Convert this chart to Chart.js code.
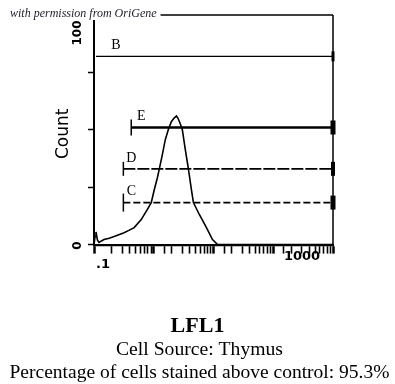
<!DOCTYPE html>
<html><head><meta charset="utf-8">
<script src="https://cdn.jsdelivr.net/npm/chart.js@4.4.1/dist/chart.umd.min.js"></script>
<style>html,body{margin:0;padding:0;background:#fff;}canvas{display:block;}</style>
</head><body>
<canvas id="c" width="395" height="384"></canvas>
<script>
// ---- data ----
const fluorescence = [0.1, 0.104, 0.108, 0.114, 0.121, 0.147, 0.18, 0.217, 0.26, 0.319, 0.39, 0.47, 0.617, 0.778, 0.908, 1.02, 1.15, 1.24, 1.39, 1.56, 1.75, 1.97, 2.21, 2.4, 2.55, 2.79, 3.01, 3.38, 3.8, 4.27, 4.61, 5.82, 7.62, 9.62, 11.7, 15, 1000];
const counts       = [0, 3.5, 5.5, 2, 0.9, 2.2, 2.8, 3.5, 4.3, 5.2, 6.3, 7.4, 10.9, 15.2, 18.3, 23.9, 29.1, 33.0, 39.1, 45.7, 50, 53.5, 55.2, 56, 55, 52.5, 50, 41.3, 33, 23.9, 18.3, 13, 7.4, 2.2, 0, 0, 0];
const gateNames  = ['B', 'E', 'D', 'C'];
const gateLevels = [82, 51, 33, 18.3];
const gateStarts = [0.108, 0.42, 0.31, 0.31];
const gateEnd = 1000;
const yTickValues = [0, 25, 50, 75, 100];
const yTickLabels = ['0', '100'];
const xTickValues = [0.1, 1000];
const xTickLabels = ['.1', '1000'];
const yAxisTitle = 'Count';
const titleText = 'LFL1';
const subtitleLines = ['Cell Source: Thymus', 'Percentage of cells stained above control: 95.3%'];
const watermark = 'with permission from OriGene';

// ---- styles ----
const gateStyle = {
  B: {w: 1.2, dash: [], cap: 0, end: 3, er: 5, lx: 20},
  E: {w: 2.6, dash: [], cap: 8, end: 5, er: 7, lx: 10},
  D: {w: 1.6, dash: [12, 2], cap: 7, end: 4, er: 7, lx: 8},
  C: {w: 1.6, dash: [7, 3], cap: 9, end: 5, er: 7, lx: 8}
};
const subtitleStyle = [{width: 167, dy: 34}, {width: 380, dy: 11}];

const histData = fluorescence.map((x, i) => ({x: x, y: counts[i]}));
const datasets = [{
  data: histData, borderColor: '#000', borderWidth: 1.6, pointRadius: 0, tension: 0, fill: false
}];
gateNames.forEach((g, i) => {
  const s = gateStyle[g];
  datasets.push({
    data: [{x: gateStarts[i], y: gateLevels[i]}, {x: gateEnd, y: gateLevels[i]}],
    borderColor: '#000', borderWidth: s.w, borderDash: s.dash, tension: 0, fill: false,
    pointStyle: 'line', rotation: 90,
    pointRadius: [s.cap, s.er], pointBorderWidth: [1.5, s.end],
    pointBorderColor: '#000', pointBackgroundColor: '#000',
    clip: false
  });
});

const decorPlugin = {
  id: 'decor',
  beforeDatasetsDraw(chart) {
    const {ctx, chartArea: a} = chart;
    ctx.save();
    ctx.strokeStyle = '#000';
    ctx.lineWidth = 1.5;
    ctx.beginPath();
    ctx.moveTo(a.left, a.top); ctx.lineTo(a.right, a.top);
    ctx.moveTo(a.right, a.top); ctx.lineTo(a.right, a.bottom);
    ctx.stroke();
    ctx.restore();
  },
  afterDraw(chart) {
    const {ctx, chartArea: a, scales} = chart;
    const xs = scales.x, ys = scales.y;
    ctx.save();
    ctx.fillStyle = '#000';
    // y labels (rotated)
    ctx.font = 'bold 12px "DejaVu Sans"';
    ctx.textAlign = 'center'; ctx.textBaseline = 'middle';
    const yl = [[0, 1], [100, 18]];
    yl.forEach((p, i) => {
      ctx.save();
      ctx.translate(a.left - 16, ys.getPixelForValue(p[0]) + p[1]);
      ctx.rotate(-Math.PI / 2);
      ctx.fillText(yTickLabels[i], 0, 0);
      ctx.restore();
    });
    // y axis title
    ctx.save();
    ctx.font = '17px "DejaVu Sans"';
    ctx.translate(a.left - 30, (a.top + a.bottom) / 2 + 4);
    ctx.rotate(-Math.PI / 2);
    ctx.fillText(yAxisTitle, 0, 0);
    ctx.restore();
    // x labels
    ctx.font = 'bold 13px "DejaVu Sans"';
    ctx.fillText(xTickLabels[0], xs.getPixelForValue(xTickValues[0]) + 9, a.bottom + 20);
    ctx.fillText(xTickLabels[1], xs.getPixelForValue(xTickValues[1]) - 31, a.bottom + 12);
    // gate labels
    ctx.font = '14px "Liberation Serif"';
    gateNames.forEach((g, i) => {
      ctx.fillText(g, xs.getPixelForValue(gateStarts[i]) + gateStyle[g].lx, ys.getPixelForValue(gateLevels[i]) - 11);
    });
    // subtitle lines (horizontally fitted to the reference widths)
    ctx.font = '19px "Liberation Serif"';
    subtitleLines.forEach((t, i) => {
      const st = subtitleStyle[i];
      const w = ctx.measureText(t).width;
      ctx.save();
      ctx.translate(chart.width / 2 + 2, chart.height - st.dy);
      ctx.scale(st.width / w, 1);
      ctx.fillText(t, 0, 0);
      ctx.restore();
    });
    // watermark on a white backing
    ctx.font = 'italic 12px "Liberation Serif"';
    ctx.textAlign = 'left';
    const ww = ctx.measureText(watermark).width;
    ctx.fillStyle = '#fff';
    ctx.fillRect(8, 8, ww + 6, 12);
    ctx.fillStyle = '#1c1c2a';
    ctx.fillText(watermark, 10, 14);
    ctx.restore();
  }
};

new Chart(document.getElementById('c'), {
  type: 'line',
  data: {datasets: datasets},
  plugins: [decorPlugin],
  options: {
    responsive: false, animation: false, devicePixelRatio: 1,
    layout: {padding: {top: 15, right: 0, left: 0, bottom: 0}},
    plugins: {
      legend: {display: false}, tooltip: {enabled: false},
      title: {display: true, text: titleText, position: 'bottom',
        color: '#000', font: {family: '"Liberation Serif"', size: 22, weight: 'bold', lineHeight: 1.2},
        padding: {top: 0, bottom: 44}}
    },
    scales: {
      x: {
        type: 'logarithmic', min: 0.1, max: 1000,
        afterFit(s) { s.height = 69; },
        border: {color: '#000', width: 2.2},
        grid: {drawOnChartArea: false, drawTicks: true, tickLength: 9, tickColor: '#000',
          tickWidth: ctx => {
            const v = ctx.tick ? ctx.tick.value : 0;
            const l = Math.log10(v);
            return Math.abs(l - Math.round(l)) < 1e-6 ? 2.5 : 1.6;
          }},
        ticks: {display: false}
      },
      y: {
        min: 0, max: 100,
        afterFit(s) { s.width = 94; },
        afterBuildTicks(s) { s.ticks = yTickValues.map(v => ({value: v})); },
        border: {color: '#000', width: 2},
        grid: {drawOnChartArea: false, drawTicks: true, tickLength: 6, tickColor: '#000', tickWidth: 1.5},
        ticks: {display: false}
      },
      yRight: {
        position: 'right', min: 0, max: 1,
        afterFit(s) { s.width = 62; },
        border: {display: false},
        grid: {display: false, drawTicks: false},
        ticks: {display: false}
      }
    }
  }
});
</script>
</body></html>
